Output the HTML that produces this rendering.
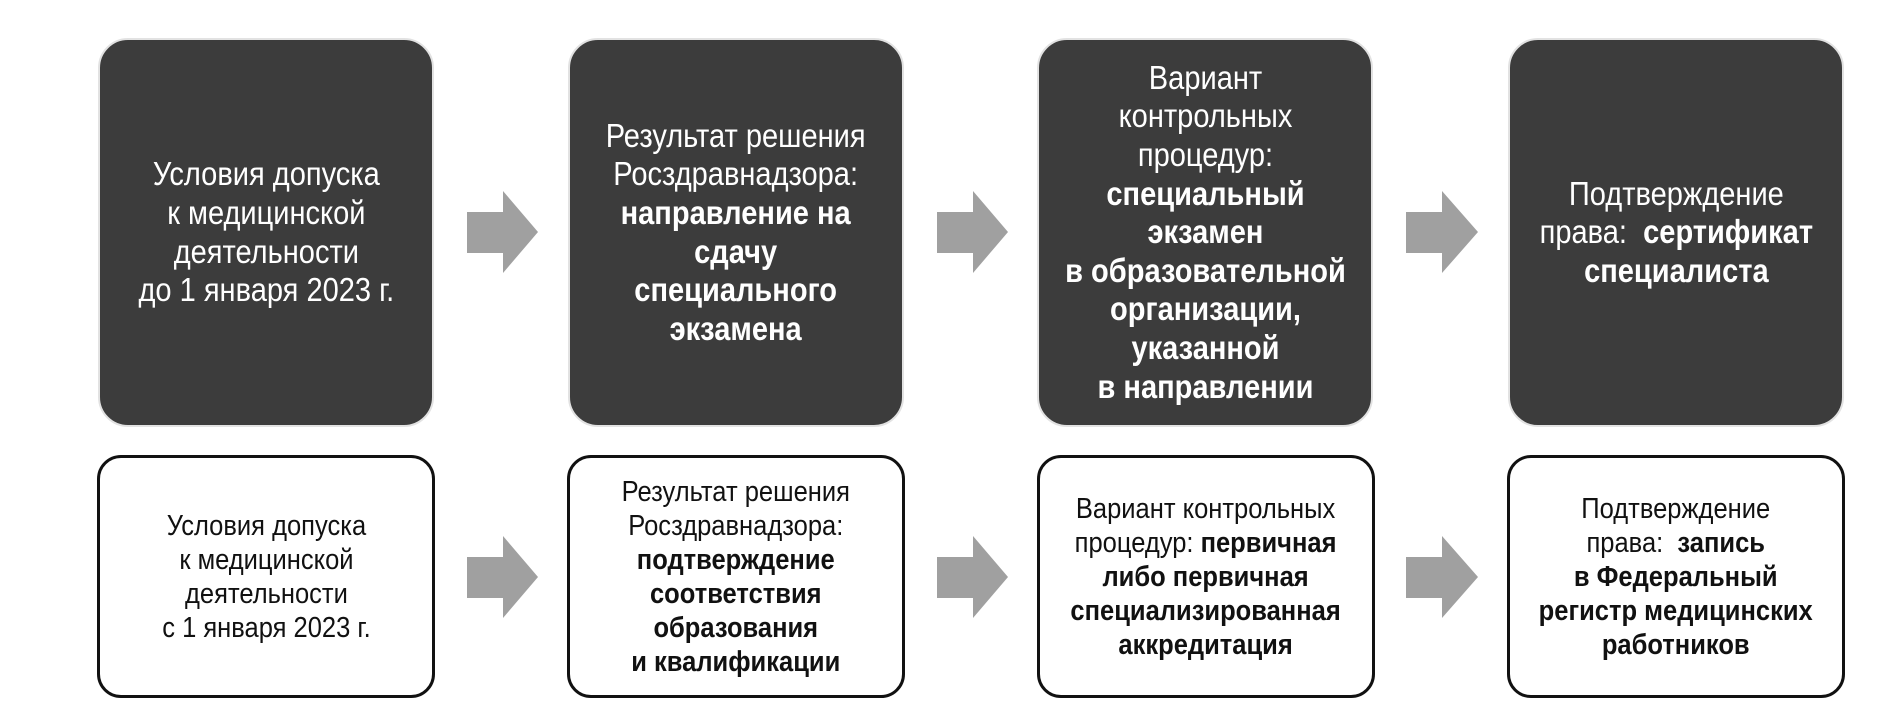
<!DOCTYPE html>
<html><head><meta charset="utf-8"><style>
html,body{margin:0;padding:0;background:#fff;width:1890px;height:712px;overflow:hidden}
.b{position:absolute;box-sizing:border-box;display:flex;align-items:center;justify-content:center;text-align:center;white-space:nowrap}
.b>div{transform:scaleX(0.88)}
.d{top:38px;height:389px;background:#3c3c3c;border:2px solid #e2e2e2;border-radius:30px;color:#fff;font-family:"Liberation Sans",sans-serif;font-size:33px;line-height:38.6px}
.l{top:455px;height:243px;background:#fff;border:3px solid #111;border-radius:24px;color:#111;font-family:"Liberation Sans",sans-serif;font-size:29px;line-height:34px}
b{font-weight:bold}
svg{position:absolute}
</style></head><body>
<div class="b d" style="left:98px;width:336px"><div>Условия допуска<br>к медицинской<br>деятельности<br>до 1 января 2023 г.</div></div>
<div class="b d" style="left:568px;width:336px"><div>Результат решения<br>Росздравнадзора:<br><b>направление на<br>сдачу<br>специального<br>экзамена</b></div></div>
<div class="b d" style="left:1037px;width:336px"><div>Вариант<br>контрольных<br>процедур:<br><b>специальный<br>экзамен<br>в образовательной<br>организации,<br>указанной<br>в направлении</b></div></div>
<div class="b d" style="left:1508px;width:336px"><div>Подтверждение<br>права:&nbsp; <b>сертификат<br>специалиста</b></div></div>

<div class="b l" style="left:97px;width:338px"><div>Условия допуска<br>к медицинской<br>деятельности<br>с 1 января 2023 г.</div></div>
<div class="b l" style="left:567px;width:338px"><div>Результат решения<br>Росздравнадзора:<br><b>подтверждение<br>соответствия<br>образования<br>и квалификации</b></div></div>
<div class="b l" style="left:1037px;width:338px"><div>Вариант контрольных<br>процедур: <b>первичная<br>либо первичная<br>специализированная<br>аккредитация</b></div></div>
<div class="b l" style="left:1507px;width:338px"><div>Подтверждение<br>права:&nbsp; <b>запись<br>в Федеральный<br>регистр медицинских<br>работников</b></div></div>

<svg width="1890" height="712" style="left:0;top:0">
<g fill="#a0a0a0">
<polygon points="467,212 503,212 503,191 538,232 503,273 503,253 467,253"/>
<polygon points="937,212 973,212 973,191 1008,232 973,273 973,253 937,253"/>
<polygon points="1406,212 1442,212 1442,191 1478,232 1442,273 1442,253 1406,253"/>
<polygon points="467,557 503,557 503,536 538,577 503,618 503,598 467,598"/>
<polygon points="937,557 973,557 973,536 1008,577 973,618 973,598 937,598"/>
<polygon points="1406,557 1442,557 1442,536 1478,577 1442,618 1442,598 1406,598"/>
</g></svg>
</body></html>
